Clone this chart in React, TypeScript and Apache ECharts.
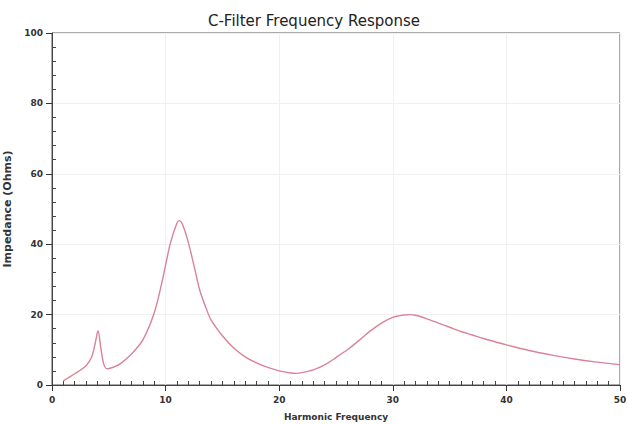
import React, { useEffect, useRef } from "react";
import * as echarts from "echarts";

const titleText = "C-Filter Frequency Response";
const xAxisName = "Harmonic Frequency";
const yAxisName = "Impedance (Ohms)";

const harmonic = [
  1, 2, 3, 3.5, 3.8, 4.05, 4.3, 4.55, 4.85, 5.5, 6, 7, 8, 9, 9.7, 10.4, 11, 11.2, 11.5, 12,
  12.6, 13, 13.6, 14, 15, 16, 17, 18, 19, 20, 21, 21.5, 22, 23, 24, 25, 26, 27, 28, 29, 30,
  31, 31.5, 32, 33, 34, 35, 36, 37, 38, 39, 40, 42, 44, 46, 48, 50,
];
const impedance = [
  1.2, 3.2, 5.5, 8, 11.8, 15.4, 10.5, 6, 4.6, 5.2, 6, 8.8, 12.8, 20.5, 29.5, 40, 46, 46.7, 45.5, 40.5,
  32.5, 27, 21.5, 18.5, 14, 10.5, 8, 6.3, 5, 4, 3.4, 3.3, 3.5, 4.3, 5.7, 7.8, 10, 12.6, 15.3, 17.6, 19.2,
  19.9, 20, 19.8, 18.8, 17.6, 16.4, 15.2, 14.2, 13.2, 12.3, 11.4, 9.8, 8.5, 7.4, 6.5, 5.8,
];

const xMin = 0;
const xMax = 50;
const xMajor = 10;
const xMinorSplits = 10;
const yMin = 0;
const yMax = 100;
const yMajor = 20;
const yMinorSplits = 5;

export default function App() {
  const ref = useRef<HTMLDivElement>(null);
  useEffect(() => {
    if (!ref.current) return;
    const chart = echarts.init(ref.current, undefined, { renderer: "svg" });
    const labelStyle = {
      fontFamily: "DejaVu Sans",
      fontWeight: "bold" as const,
      fontSize: 9,
      color: "#333",
    };
    const points = harmonic.map((h, i) => [h, impedance[i]]);
    chart.setOption({
      animation: false,
      backgroundColor: "#fff",
      title: {
        text: titleText,
        left: "center",
        top: 8,
        textStyle: {
          fontFamily: "DejaVu Sans",
          fontSize: 15,
          fontWeight: "normal",
          color: "#222",
        },
      },
      grid: {
        left: 52,
        right: 8,
        top: 33,
        bottom: 39,
        outerBoundsMode: "none",
        show: true,
        borderColor: "#555",
        borderWidth: 1,
      },
      xAxis: {
        type: "value",
        position: "bottom",
        min: xMin,
        max: xMax,
        interval: xMajor,
        name: xAxisName,
        nameLocation: "middle",
        nameGap: 27,
        nameTextStyle: { ...labelStyle, fontSize: 9 },
        axisLine: { show: true, onZero: false, lineStyle: { color: "#444", width: 1 } },
        axisTick: { show: true, inside: false, length: 6, lineStyle: { color: "#333", width: 1 } },
        minorTick: { show: true, splitNumber: xMinorSplits, length: -4, lineStyle: { color: "#444", width: 1 } },
        axisLabel: { ...labelStyle, margin: 10 },
        splitLine: { show: true, lineStyle: { color: "#f0f0f0", width: 1 } },
        minorSplitLine: { show: false },
      },
      yAxis: {
        type: "value",
        position: "left",
        min: yMin,
        max: yMax,
        interval: yMajor,
        name: yAxisName,
        nameLocation: "middle",
        nameGap: 30,
        nameTextStyle: { ...labelStyle, fontSize: 11 },
        axisLine: { show: true, onZero: false, lineStyle: { color: "#444", width: 1 } },
        axisTick: { show: true, inside: false, length: 6, lineStyle: { color: "#333", width: 1 } },
        minorTick: { show: true, splitNumber: yMinorSplits, length: -4, lineStyle: { color: "#444", width: 1 } },
        axisLabel: { ...labelStyle, margin: 9 },
        splitLine: { show: true, lineStyle: { color: "#f0f0f0", width: 1 } },
      },
      series: [
        {
          type: "line",
          data: points,
          smooth: 0.3,
          showSymbol: false,
          lineStyle: { color: "#d98398", width: 1.4 },
          itemStyle: { color: "#d98398" },
        },
      ],
    });
    return () => chart.dispose();
  }, []);
  return (
    <div
      ref={ref}
      style={{ position: "absolute", left: 0, top: 0, width: 628, height: 424 }}
    />
  );
}
